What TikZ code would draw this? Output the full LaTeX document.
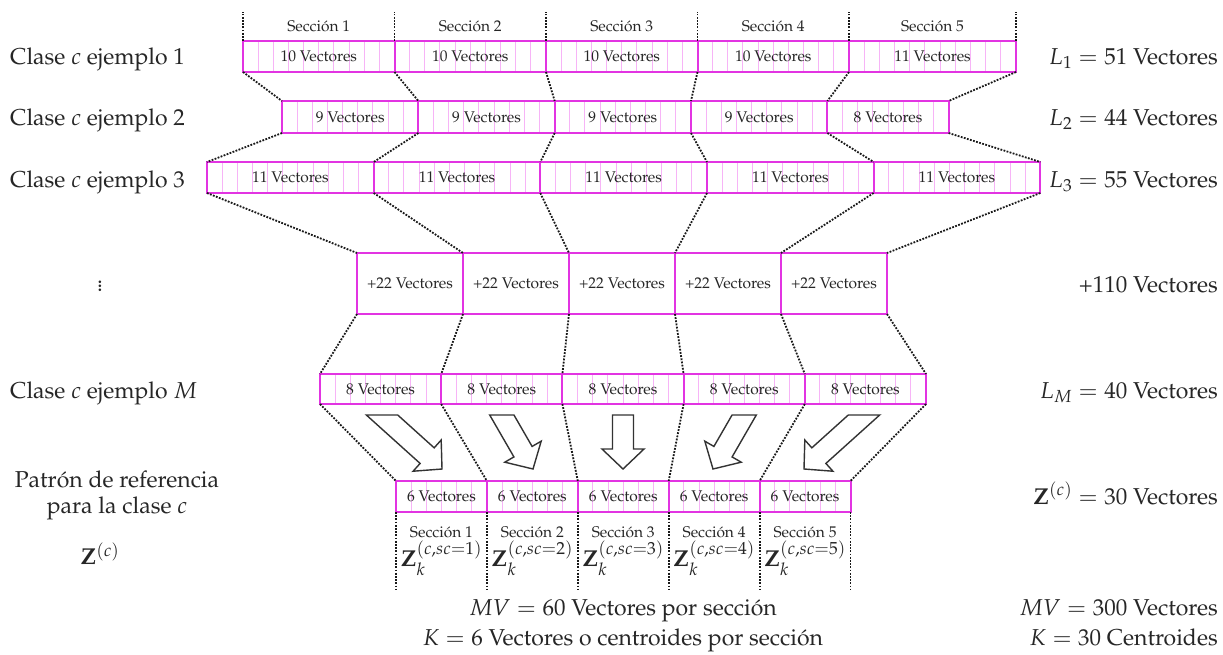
\documentclass[tikz,border=0pt]{standalone}
\usepackage[T1]{fontenc}
\usepackage{mathpazo}
\usetikzlibrary{calc}
\definecolor{mag}{RGB}{226,52,226}
\definecolor{strp}{RGB}{247,180,247}
\tikzset{
  segbox/.style={draw=mag, line width=2pt, inner sep=0pt, outer sep=0pt, text=black!85,
                 font=\fontsize{15.5}{18}\selectfont},
  stripe/.style={draw=strp, line width=1pt},
  conn/.style={black!90, line width=1.8pt, dash pattern=on 1.8pt off 1.4pt},
  big/.style={font=\fontsize{23}{26}\selectfont, inner sep=0pt, text=black!85},
  small/.style={font=\fontsize{15.5}{18}\selectfont, inner sep=0pt, text=black!85},
  barrow/.style={draw=black!80, line width=1.4pt, fill=white, line join=miter},
}
% name, x0, x1, ytop, ybot, n, text
\newcommand\seg[7]{%
  \pgfmathtruncatemacro\nm{#6-1}%
  \foreach \k in {1,...,\nm}{%
    \draw[stripe] ({#2+\k*(#3-#2)/#6},#4) -- ({#2+\k*(#3-#2)/#6},#5);}%
  \node[segbox, minimum width={(#3-#2)*1pt}, minimum height={(#5-#4)*1pt}] (#1)
    at ({(#2+#3)/2},{(#4+#5)/2}) {#7};%
}
\newcommand\segplain[6]{%
  \node[segbox, minimum width={(#3-#2)*1pt}, minimum height={(#5-#4)*1pt}] (#1)
    at ({(#2+#3)/2},{(#4+#5)/2}) {#6};%
}
% tip x, tip y, angle (y down), tail y
\newcommand\blockarrow[4]{%
  \pgfmathsetmacro\dx{cos(#3)}\pgfmathsetmacro\dy{sin(#3)}%
  \pgfmathsetmacro\bx{#1-20*\dx}\pgfmathsetmacro\by{#2-20*\dy}%
  \pgfmathsetmacro\sax{\bx-10.5*\dy}\pgfmathsetmacro\say{\by+10.5*\dx}%
  \pgfmathsetmacro\sbx{\bx+10.5*\dy}\pgfmathsetmacro\sby{\by-10.5*\dx}%
  \pgfmathsetmacro\pax{\bx-21*\dy}\pgfmathsetmacro\pay{\by+21*\dx}%
  \pgfmathsetmacro\pbx{\bx+21*\dy}\pgfmathsetmacro\pby{\by-21*\dx}%
  \pgfmathsetmacro\ta{(\say-#4)/\dy}\pgfmathsetmacro\tb{(\sby-#4)/\dy}%
  \pgfmathsetmacro\tax{\sax-\ta*\dx}\pgfmathsetmacro\tbx{\sbx-\tb*\dx}%
  \draw[barrow] (#1,#2) -- (\pax,\pay) -- (\sax,\say) -- (\tax,#4) -- (\tbx,#4)
     -- (\sbx,\sby) -- (\pbx,\pby) -- cycle;%
}
\begin{document}
\begin{tikzpicture}[x=1pt,y=-1pt]
\fill[white] (0,0) rectangle (1223,654);
\useasboundingbox (0,0) rectangle (1223,654);

% Row A: ejemplo 1
\seg{A1}{243}{394.5}{41}{72}{10}{10 Vectores}
\seg{A2}{394.5}{546}{41}{72}{10}{10 Vectores}
\seg{A3}{546}{697.5}{41}{72}{10}{10 Vectores}
\seg{A4}{697.5}{849}{41}{72}{10}{10 Vectores}
\seg{A5}{849}{1016}{41}{72}{11}{11 Vectores}
% Row B
\seg{B1}{282}{418.4}{101}{133}{9}{9 Vectores}
\seg{B2}{418.4}{554.7}{101}{133}{9}{9 Vectores}
\seg{B3}{554.7}{691}{101}{133}{9}{9 Vectores}
\seg{B4}{691}{827.4}{101}{133}{9}{9 Vectores}
\seg{B5}{827.4}{948.6}{101}{133}{8}{8 Vectores}
% Row C
\seg{C1}{207}{373.7}{162}{193}{11}{11 Vectores}
\seg{C2}{373.7}{540.3}{162}{193}{11}{11 Vectores}
\seg{C3}{540.3}{707}{162}{193}{11}{11 Vectores}
\seg{C4}{707}{873.6}{162}{193}{11}{11 Vectores}
\seg{C5}{873.6}{1040.3}{162}{193}{11}{11 Vectores}
% Row D
\segplain{D1}{357}{463}{253}{314}{+22 Vectores}
\segplain{D2}{463}{569}{253}{314}{+22 Vectores}
\segplain{D3}{569}{675}{253}{314}{+22 Vectores}
\segplain{D4}{675}{781}{253}{314}{+22 Vectores}
\segplain{D5}{781}{887}{253}{314}{+22 Vectores}
% Row E
\seg{E1}{320}{441.2}{374}{404}{8}{8 Vectores}
\seg{E2}{441.2}{562.4}{374}{404}{8}{8 Vectores}
\seg{E3}{562.4}{683.6}{374}{404}{8}{8 Vectores}
\seg{E4}{683.6}{804.8}{374}{404}{8}{8 Vectores}
\seg{E5}{804.8}{926}{374}{404}{8}{8 Vectores}
% Row F
\seg{F1}{396}{486.9}{481}{512}{6}{6 Vectores}
\seg{F2}{486.9}{577.8}{481}{512}{6}{6 Vectores}
\seg{F3}{577.8}{668.7}{481}{512}{6}{6 Vectores}
\seg{F4}{668.7}{759.6}{481}{512}{6}{6 Vectores}
\seg{F5}{759.6}{850.5}{481}{512}{6}{6 Vectores}

% connectors between rows
\foreach \u/\l in {A/B,B/C,C/D,D/E,E/F}{
  \foreach \i in {1,...,5}{\draw[conn] (\u\i.south west) -- (\l\i.north west);}
  \draw[conn] (\u5.south east) -- (\l5.north east);
}
% top section marks
\foreach \i in {1,...,5}{
  \coordinate (tA\i) at ([yshift=29pt]A\i.north west);
  \draw[conn] (A\i.north west) -- (tA\i);
  \node[small] (sA\i) at ([yshift=15pt]A\i.north) {Secci\'on \i};
}
\coordinate (tA6) at ([yshift=29pt]A5.north east);
\draw[conn] (A5.north east) -- (tA6);

% bottom section marks
\foreach \i in {1,...,5}{
  \coordinate (bF\i) at ([yshift=-78pt]F\i.south west);
  \draw[conn] (F\i.south west) -- (bF\i);
  \node[small] (sF\i) at ([yshift=-20pt]F\i.south) {Secci\'on \i};
  \node[big] (zF\i) at ([yshift=-46pt]F\i.south) {$\mathbf{Z}_k^{(c,sc=\i)}$};
}
\coordinate (bF6) at ([yshift=-78pt]F5.south east);
\draw[conn] (F5.south east) -- (bF6);

% block arrows
\blockarrow{442}{469}{42}{415}
\blockarrow{533}{469}{60}{415}
\blockarrow{623}{469}{90}{415}
\blockarrow{713}{469}{120}{415}
\blockarrow{804}{469}{138}{415}

% left labels
\node[big, anchor=base west] (L1) at (10,64) {Clase $c$ ejemplo 1};
\node[big, anchor=base west] (L2) at (10,125) {Clase $c$ ejemplo 2};
\node[big, anchor=base west] (L3) at (10,187) {Clase $c$ ejemplo 3};
\node[big] (Ld) at (100,283) {$\vdots$};
\node[big, anchor=base west] (LM) at (10,398) {Clase $c$ ejemplo $M$};
\node[big, align=center] (LP) at (117,495) {Patr\'on de referencia\\para la clase $c$};
\node[big] (LZ) at (100,554) {$\mathbf{Z}^{(c)}$};

% right labels
\node[big, anchor=base east] (R1) at (1218,64) {$L_1=51$ Vectores};
\node[big, anchor=base east] (R2) at (1218,125) {$L_2=44$ Vectores};
\node[big, anchor=base east] (R3) at (1218,187) {$L_3=55$ Vectores};
\node[big, anchor=base east] (RD) at (1218,292) {+110 Vectores};
\node[big, anchor=base east] (RM) at (1218,398) {$L_M=40$ Vectores};
\node[big, anchor=base east] (RZ) at (1218,504) {$\mathbf{Z}^{(c)}=30$ Vectores};
\node[big, anchor=base east] (RMV) at (1218,615) {$MV=300$ Vectores};
\node[big, anchor=base east] (RK) at (1218,645) {$K=30$ Centroides};

% bottom centre
\node[big, anchor=base] (BMV) at (623,615) {$MV=60$ Vectores por secci\'on};
\node[big, anchor=base] (BK) at (623,645) {$K=6$ Vectores o centroides por secci\'on};
\end{tikzpicture}
\end{document}
